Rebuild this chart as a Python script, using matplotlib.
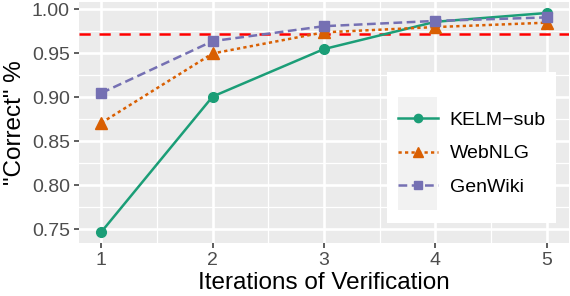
import matplotlib
matplotlib.use("Agg")
import matplotlib.pyplot as plt
from matplotlib.patches import Rectangle
from matplotlib.ticker import MultipleLocator

iterations = [1, 2, 3, 4, 5]
kelm_sub = [0.747, 0.901, 0.955, 0.986, 0.996]
webnlg = [0.871, 0.950, 0.974, 0.980, 0.985]
genwiki = [0.905, 0.964, 0.981, 0.987, 0.991]
threshold = 0.972

plt.rcParams["font.family"] = ["Liberation Sans", "DejaVu Sans"]

fig = plt.figure(figsize=(5.7, 2.96), dpi=100)
ax = fig.add_axes([79 / 570, 53 / 296, 490 / 570, 241 / 296])
ax.set_facecolor("#ebebeb")
for s in ax.spines.values():
    s.set_visible(False)

ax.set_xlim(0.8, 5.2)
ax.set_ylim(0.7345, 1.0085)
ax.xaxis.set_major_locator(MultipleLocator(1))
ax.xaxis.set_minor_locator(MultipleLocator(0.5))
ax.yaxis.set_major_locator(MultipleLocator(0.05))
ax.yaxis.set_minor_locator(MultipleLocator(0.025))
ax.grid(which="major", color="white", linewidth=1.9)
ax.grid(which="minor", color="white", linewidth=0.9)
ax.set_axisbelow(True)
ax.tick_params(which="major", length=3.6, width=1.1, color="#333333",
               labelsize=14, labelcolor="#4d4d4d", pad=3)
ax.tick_params(which="minor", length=0)
ax.yaxis.set_major_formatter(plt.FormatStrFormatter("%.2f"))

ax.axhline(threshold, color="red", linewidth=1.8, dashes=(4.5, 3.5), zorder=2)

lw = 1.8
ax.plot(iterations, kelm_sub, color="#1b9e77", linewidth=lw, marker="o",
        markersize=7, label="KELM\u2212sub", zorder=3)
ax.plot(iterations, webnlg, color="#d95f02", linewidth=lw, dashes=(1.3, 1.3),
        marker="^", markersize=8.5, label="WebNLG", zorder=3)
ax.plot(iterations, genwiki, color="#7570b3", linewidth=lw, dashes=(3.5, 1.8),
        marker="s", markersize=7, label="GenWiki", zorder=3)

ax.set_xlabel("Iterations of Verification", fontsize=17.5, labelpad=2)
ax.set_ylabel("\"Correct\" %", fontsize=17.5, labelpad=4)

# legend box and key background (ggplot style)
ax.add_patch(Rectangle((0.629, 0.083), 0.344, 0.627, transform=ax.transAxes,
                       facecolor="white", edgecolor="none", zorder=5))
ax.add_patch(Rectangle((0.651, 0.137), 0.080, 0.469, transform=ax.transAxes,
                       facecolor="#f2f2f2", edgecolor="none", zorder=5))
leg = ax.legend(loc="center left", bbox_to_anchor=(0.651, 0.371), frameon=False,
                fontsize=14, borderpad=0, borderaxespad=0, handlelength=2.05,
                handletextpad=0.6, labelspacing=0.82, markerscale=0.85)
leg.set_zorder(6)

fig.savefig("out.png", dpi=100)
